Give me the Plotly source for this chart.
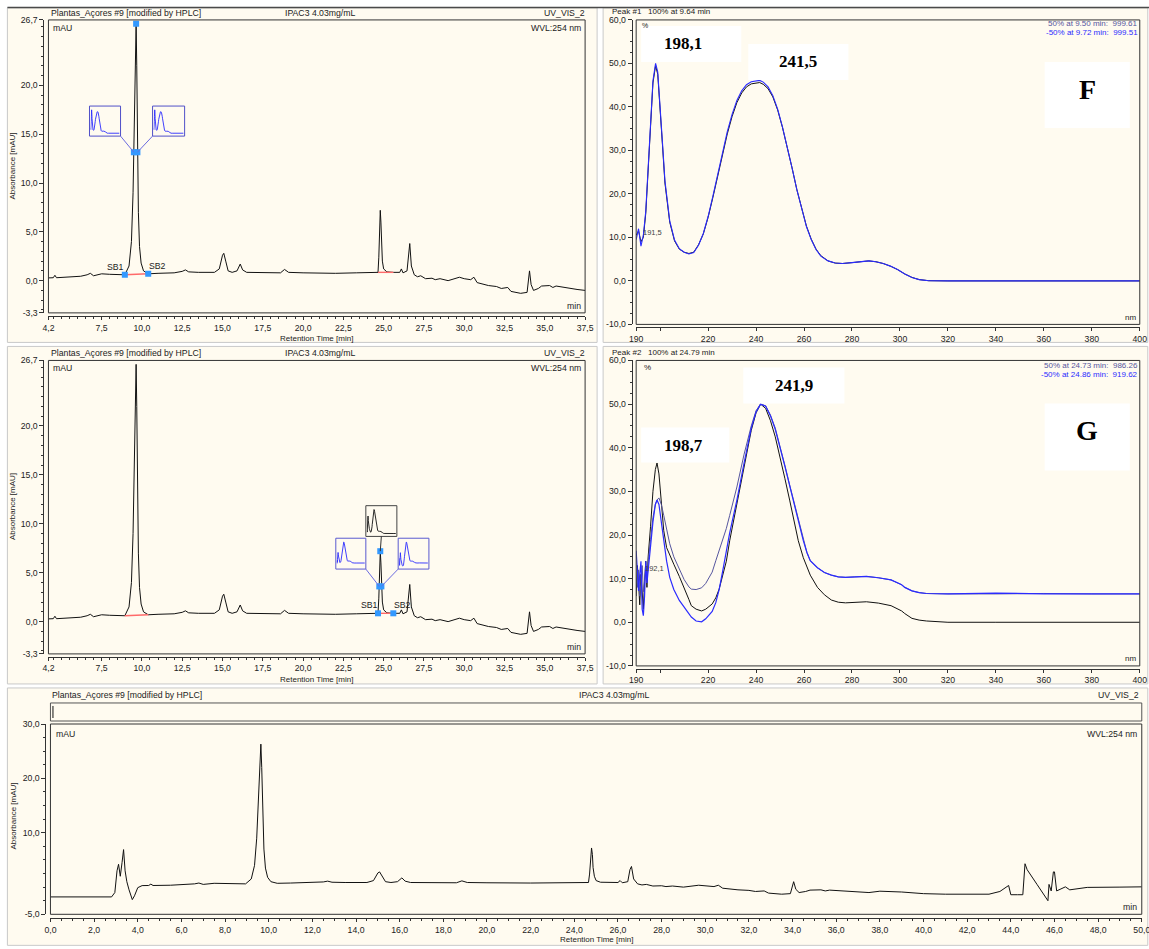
import plotly.graph_objects as go

W, H = 1149, 949
# the page is shown slightly reduced and shifted (body margin); place the
# drawing in page pixels and convert with this fitted transform
KX, BX = 0.985, 7.6
KY, BY = 0.988, 5.1
FW, FH = round((W - BX) / KX), round((H - BY) / KY)
FONT = "Liberation Sans, Arial, sans-serif"
SERIF = "Liberation Serif, Times New Roman, serif"
INK = "#222222"
CREAM = "#FFFBF0"
MARK = "#3399FF"
SLATE = "#55559E"
BLUE = "#2B2BFF"
REDLINE = "#FF6A6A"
LINK = "#6B6BE0"

# ---------------------------------------------------------------------------
# Chromatogram, UV_VIS_2 (254 nm): retention time [min] / absorbance [mAU]
# ---------------------------------------------------------------------------
rt_min = [0.0, 1.0, 2.0, 2.8, 2.95, 3.05, 3.12, 3.2, 3.28, 3.35, 3.42, 3.5, 3.6, 3.75, 3.85, 4.0,
          4.2, 4.5, 4.6, 4.7, 5.5, 6.2, 6.6, 6.8, 7.0, 7.5, 8.0, 8.5, 8.94, 9.2, 9.35, 9.45,
          9.50, 9.57, 9.64, 9.68, 9.72, 9.78, 9.85, 9.95, 10.1, 10.39, 11.0, 12.0, 12.5, 12.7,
          12.9, 13.5, 14.5, 14.8, 15.0, 15.08, 15.2, 15.35, 15.6, 15.9, 16.1, 16.25, 16.5, 17.5,
          18.6, 18.85, 19.1, 20.0, 21.0, 22.0, 23.3, 24.0, 24.5, 24.65, 24.70, 24.73, 24.79,
          24.83, 24.86, 24.92, 25.0, 25.2, 25.6, 26.0, 26.1, 26.2, 26.45, 26.55, 26.62, 26.72,
          26.9, 27.1, 27.3, 27.6, 28.0, 28.2, 28.5, 29.0, 29.7, 30.0, 30.4, 30.6, 30.8, 31.5,
          32.0, 32.3, 32.7, 32.9, 33.5, 33.9, 34.0, 34.05, 34.15, 34.3, 34.6, 34.8, 35.3, 35.5,
          35.7, 36.5, 37.0, 37.5, 38.0, 39.0, 40.0, 41.0, 43.0, 43.5, 43.9, 44.0, 44.3, 44.55,
          44.65, 44.75, 45.2, 45.6, 45.7, 45.75, 45.85, 45.95, 46.0, 46.1, 46.3, 46.5, 46.7,
          47.0, 47.5, 49.0, 50.0]
abs_mau = [-1.8, -1.8, -1.8, -1.8, -1.0, 3.0, 4.2, 2.0, 4.5, 6.9, 3.0, 1.0, -0.5, -2.3, -1.6, -0.1,
           0.28, 0.3, 0.55, 0.3, 0.35, 0.45, 0.6, 0.75, 0.5, 0.7, 0.65, 0.6, 0.6, 1.5, 4.0, 9.0,
           13.15, 21.0, 26.3, 22.0, 13.15, 7.0, 3.5, 1.8, 1.0, 0.7, 0.75, 0.8, 0.95, 1.1,
           0.9, 0.85, 0.85, 1.2, 2.6, 2.8, 2.0, 1.0, 0.85, 1.0, 1.7, 1.1, 0.85, 0.8,
           0.8, 1.15, 0.85, 0.8, 0.75, 0.75, 0.8, 0.8, 0.8, 0.85, 2.4, 3.6, 7.2,
           6.0, 3.6, 2.0, 1.2, 0.9, 0.85, 0.85, 1.2, 0.8, 1.0, 3.2, 3.8, 1.5,
           0.6, 0.4, 0.5, 0.2, 0.25, 0.1, 0.2, 0.0, 0.35, 0.2, 0.1, 0.35, -0.2, -0.5,
           -0.6, -0.8, -0.7, -1.1, -1.3, -1.2, 0.2, 1.0, -0.4, -1.0, -0.8, -0.55, -0.5, -0.7,
           -0.55, -0.8, -0.9, -1.0, -0.75, -0.9, -1.2, -1.3, -1.3, -0.8, 0.3, -1.4, -1.4, -1.4,
           4.3, 3.2, 0.5, -2.0, -2.5, 0.5, -0.7, 2.8, 2.8, -0.7, -0.4, 0.05, -0.5,
           -0.3, -0.05, 0.0, 0.05]

# Peak #1 and Peak #2: 50 % / apex / -50 % points and integration limits (SB1, SB2)
peak1_rt = [9.50, 9.64, 9.72]
peak1_mau = [13.15, 26.3, 13.15]
peak1_sb_rt = [8.94, 10.39]
peak1_sb_mau = [0.6, 0.7]
peak2_rt = [24.73, 24.79, 24.86]
peak2_mau = [3.6, 7.2, 3.6]
peak2_sb_rt = [24.65, 25.6]
peak2_sb_mau = [0.85, 0.85]

# ---------------------------------------------------------------------------
# UV spectra (%), Peak #1 (F) and Peak #2 (G)
# ---------------------------------------------------------------------------
nm_f = [190, 191, 192, 193, 194, 195, 196, 197, 198.1, 199, 200, 201, 202, 204, 206, 208, 210,
        212, 214, 216, 218, 220, 222, 224, 226, 228, 230, 232, 234, 236, 238, 240, 241.5, 243,
        245, 247, 249, 251, 253, 255, 257, 259, 261, 263, 265, 267, 270, 273, 276, 280, 284,
        287, 290, 293, 296, 299, 302, 305, 308, 312, 320, 340, 360, 380, 400]
spec_f_apex = [10.5, 11.5, 9.0, 10.0, 15.5, 24.5, 35.5, 45.5, 49.5, 47.5, 40.0, 31.0, 22.5, 13.5,
               9.2, 7.3, 6.6, 6.3, 6.6, 8.3, 10.8, 14.6, 19.2, 24.2, 29.2, 33.8, 37.8, 41.0, 43.2,
               44.6, 45.3, 45.5, 45.6, 45.2, 44.2, 42.3, 39.3, 35.3, 30.8, 26.0, 21.0, 16.6, 12.6,
               9.6, 7.3, 5.8, 4.6, 4.1, 4.0, 4.2, 4.5, 4.6, 4.4, 4.0, 3.4, 2.6, 1.6, 0.8, 0.3,
               0.05, 0.0, 0.0, 0.0, 0.0, 0.0]
spec_f_half = [9.5, 12.0, 8.0, 10.5, 16.0, 25.0, 36.0, 46.0, 50.0, 48.0, 40.5, 31.5, 23.0, 13.8,
               9.4, 7.4, 6.6, 6.2, 6.5, 8.2, 10.9, 14.8, 19.5, 24.6, 29.7, 34.3, 38.3, 41.5, 43.7,
               45.1, 45.8, 46.0, 46.1, 45.7, 44.6, 42.6, 39.5, 35.4, 30.9, 26.0, 21.0, 16.5, 12.5,
               9.5, 7.2, 5.7, 4.6, 4.1, 4.0, 4.2, 4.5, 4.6, 4.4, 4.0, 3.4, 2.6, 1.6, 0.8, 0.3,
               0.05, 0.0, 0.0, 0.0, 0.0, 0.0]

nm_g = [190, 190.5, 191, 191.5, 192, 192.5, 193, 193.5, 194, 194.5, 195, 196, 197, 198, 198.7,
        199.5, 200.5, 201.5, 202.7, 204, 205.7, 208, 210, 212, 213, 215, 217.3, 219, 221.7,
        223.2, 224.6, 226.1, 227.6, 229, 230, 232, 235, 238, 240, 241.9, 244, 246, 248, 250,
        252, 254, 256, 257.6, 259.7, 261.2, 262.6, 265.6, 268.5, 271.4, 274.3, 277.3, 281, 286,
        291, 296.3, 300.7, 302, 305, 308, 311, 315, 320, 340, 360, 380, 400]
spec_g_apex = [6, 13, 9, 4, 11, 7, 3, 9, 14, 8, 15, 22, 30, 35, 36.5, 34, 27, 21, 17.1, 15.3,
               13.3, 10.5, 8.0, 5.2, 3.8, 3.0, 2.6, 3.0, 4.2, 5.6, 7.6, 10.5, 14.0, 18.7, 21.5,
               27.5, 36.0, 44.0, 48.0, 50.0, 49.0, 46.2, 42.5, 38.0, 33.0, 28.0, 23.0, 18.7, 14.8,
               12.6, 10.8, 8.0, 6.3, 5.1, 4.6, 4.45, 4.5, 4.7, 4.4, 3.8, 2.6, 2.0, 0.9, 0.5, 0.3,
               0.1, 0.0, 0.0, 0.0, 0.0, 0.0]
spec_g_up = [10, 8, 12, 6, 9, 13, 7, 10, 12, 9, 14, 19, 24, 27, 28, 28.5, 27, 24.5, 21, 18,
             15, 12, 9.8, 8.1, 7.6, 7.5, 7.9, 8.9, 11.5, 14.1, 16.3, 18.7, 21.5, 24.5, 26.5,
             31.0, 38.5, 45.0, 48.5, 50.0, 49.6, 47.5, 44.5, 40.5, 36.0, 31.5, 27.0, 23.5, 18.7,
             16.0, 14.1, 12.5, 11.4, 10.8, 10.4, 10.3, 10.4, 10.5, 10.2, 9.7, 8.6, 8.0, 7.2, 6.8,
             6.6, 6.5, 6.5, 6.5, 6.6, 6.5, 6.5]
spec_g_down = [16.4, 12, 7.2, 11, 14, 3, 1.5, 6, 14, 9, 12, 17, 23, 27, 28, 27, 23, 18, 14, 10.3,
               7.5, 5.0, 3.4, 1.8, 1.2, 0.3, 0.1, 0.8, 2.5, 4.5, 7.5, 11.8, 16.5, 20.5, 23.0,
               28.0, 36.5, 44.5, 48.2, 50.0, 49.5, 47.3, 44.2, 40.3, 35.8, 31.3, 26.8, 23.3, 18.7,
               16.0, 14.1, 12.5, 11.4, 10.8, 10.4, 10.3, 10.4, 10.5, 10.2, 9.7, 8.6, 8.0, 7.2, 6.8,
               6.6, 6.5, 6.5, 6.7, 6.5, 6.5, 6.5]

# ---------------------------------------------------------------------------
# Page geometry (page pixels) for the five panels
# ---------------------------------------------------------------------------
GEOM = {
    "A": dict(x0=49, x1=585, y0=20, y1=312.5, xr=[4.2, 37.5], yr=[-3.3, 26.7], ax=44, ay=316),
    "B": dict(x0=636, x1=1139, y0=20, y1=324, xr=[190, 400], yr=[-10, 60], ax=631.5, ay=327),
    "C": dict(x0=49, x1=585, y0=360, y1=653, xr=[4.2, 37.5], yr=[-3.3, 26.7], ax=44, ay=656),
    "D": dict(x0=636, x1=1139, y0=360, y1=665, xr=[190, 400], yr=[-10, 60], ax=631.5, ay=668),
    "E": dict(x0=51, x1=1141, y0=723, y1=913, xr=[0, 50], yr=[-5, 30], ax=46, ay=917),
}


def xp(px):
    return ((px - BX) / KX) / FW


def yp(py):
    return 1 - ((py - BY) / KY) / FH


def to_px(panel, t, v):
    g = GEOM[panel]
    x = g["x0"] + (t - g["xr"][0]) / (g["xr"][1] - g["xr"][0]) * (g["x1"] - g["x0"])
    y = g["y1"] - (v - g["yr"][0]) / (g["yr"][1] - g["yr"][0]) * (g["y1"] - g["y0"])
    return x, y


def fmt1(v):
    return f"{v:.1f}".replace(".", ",")


tick_font = dict(family=FONT, size=8.7, color=INK)


def axis_pair(panel, xticks, xlabels, yticks, xminor, yminor):
    g = GEOM[panel]
    xa = dict(domain=[xp(g["x0"]), xp(g["x1"])], range=g["xr"], anchor="free",
              position=yp(g["ay"]), showline=True, linecolor="#333", linewidth=1,
              ticks="outside", ticklen=3, tickcolor="#333", tickmode="array",
              tickvals=xticks, ticktext=xlabels, tickfont=tick_font, showgrid=False,
              zeroline=False, minor=dict(ticks="outside", ticklen=2, tickcolor="#333", **xminor))
    ya = dict(domain=[yp(g["y1"]), yp(g["y0"])], range=g["yr"], anchor="free",
              position=xp(g["ax"]), side="left", showline=True, linecolor="#333", linewidth=1,
              ticks="outside", ticklen=4, tickcolor="#333", tickmode="array",
              tickvals=yticks, ticktext=[fmt1(v) for v in yticks], tickfont=tick_font,
              showgrid=False, zeroline=False,
              minor=dict(ticks="outside", ticklen=2, tickcolor="#333", **yminor))
    return xa, ya


layout = dict(width=FW, height=FH, margin=dict(l=0, r=0, t=0, b=0), autosize=False,
              paper_bgcolor="#FFFFFF", plot_bgcolor="rgba(0,0,0,0)", showlegend=False,
              font=dict(family=FONT, size=9, color=INK), hovermode=False)

rt_ticks_short = [4.2, 7.5, 10, 12.5, 15, 17.5, 20, 22.5, 25, 27.5, 30, 32.5, 35, 37.5]
mau_ticks_short = [-3.3, 0, 5, 10, 15, 20, 26.7]
nm_ticks = [190, 220, 240, 260, 280, 300, 320, 340, 360, 380, 400]
pct_ticks = [-10, 0, 10, 20, 30, 40, 50, 60]
rt_ticks_full = list(range(0, 51, 2))
mau_ticks_full = [-5, 10, 20, 30]

axis_names = {"A": ("xaxis", "yaxis"), "B": ("xaxis2", "yaxis2"), "C": ("xaxis3", "yaxis3"),
              "D": ("xaxis4", "yaxis4"), "E": ("xaxis5", "yaxis5")}
trace_refs = {"A": ("x", "y"), "B": ("x2", "y2"), "C": ("x3", "y3"),
              "D": ("x4", "y4"), "E": ("x5", "y5")}

for p in ("A", "C"):
    xa, ya = axis_pair(p, rt_ticks_short, [fmt1(v) for v in rt_ticks_short], mau_ticks_short,
                       dict(dtick=0.5, tick0=0), dict(dtick=1, tick0=0))
    layout[axis_names[p][0]], layout[axis_names[p][1]] = xa, ya
for p in ("B", "D"):
    xa, ya = axis_pair(p, nm_ticks, [str(v) for v in nm_ticks], pct_ticks,
                       dict(tickmode="array", tickvals=[200]), dict(dtick=2.5, tick0=0))
    xa["minor"]["ticklen"] = 3
    layout[axis_names[p][0]], layout[axis_names[p][1]] = xa, ya
xa, ya = axis_pair("E", rt_ticks_full, [fmt1(v) for v in rt_ticks_full], mau_ticks_full,
                   dict(dtick=0.5, tick0=0), dict(dtick=2.5, tick0=0))
layout["xaxis5"], layout["yaxis5"] = xa, ya

# small spectrum insets next to the highlighted peaks
INSETS = {
    6: dict(box=(90, 106, 121, 136), panel="A", color="#5050C8"),
    7: dict(box=(153, 106, 185, 136), panel="A", color="#5050C8"),
    8: dict(box=(366, 505, 397, 535.7), panel="C", color="#444444"),
    9: dict(box=(336, 537.5, 366, 568.3), panel="C", color="#5A5AD0"),
    10: dict(box=(398.3, 537.5, 429, 568.3), panel="C", color="#5A5AD0"),
}
for k, ins in INSETS.items():
    bx0, by0, bx1, by1 = ins["box"]
    layout[f"xaxis{k}"] = dict(domain=[xp(bx0 + 1), xp(bx1 - 1)], range=[190, 400],
                               anchor=f"y{k}", visible=False, fixedrange=True)
    layout[f"yaxis{k}"] = dict(domain=[yp(by1 - 1), yp(by0 + 1)], range=[-4, 56],
                               anchor=f"x{k}", visible=False, fixedrange=True)

traces = []


def line(panel, x, y, color, width=1.0):
    xr, yr = trace_refs[panel]
    traces.append(go.Scatter(x=x, y=y, mode="lines", xaxis=xr, yaxis=yr,
                             line=dict(color=color, width=width), hoverinfo="skip"))


# chromatograms
for p in ("A", "C", "E"):
    line(p, rt_min, abs_mau, "#111111", 1.0)

# integration baselines
for p in ("A", "C"):
    line(p, peak1_sb_rt, peak1_sb_mau, REDLINE, 1.4)
    line(p, peak2_sb_rt, peak2_sb_mau, REDLINE, 1.4)

# spectra
line("B", nm_f, spec_f_apex, "#111111", 1.0)
line("B", nm_f, spec_f_half, BLUE, 1.1)
line("D", nm_g, spec_g_apex, "#111111", 1.0)
line("D", nm_g, spec_g_up, SLATE, 1.0)
line("D", nm_g, spec_g_down, BLUE, 1.2)

# inset spectra
inset_data = {6: (nm_f, spec_f_half, BLUE), 7: (nm_f, spec_f_half, BLUE),
              8: (nm_g, spec_g_apex, "#111111"), 9: (nm_g, spec_g_up, BLUE),
              10: (nm_g, spec_g_down, BLUE)}
for k, (wx, wy, col) in inset_data.items():
    traces.append(go.Scatter(x=wx, y=wy, mode="lines", xaxis=f"x{k}", yaxis=f"y{k}",
                             line=dict(color=col, width=0.9), hoverinfo="skip"))

shapes = []
annotations = []


def rect(x0, y0, x1, y1, line_color=None, fill=None, width=1, layer="above"):
    shapes.append(dict(type="rect", xref="paper", yref="paper", x0=xp(x0), x1=xp(x1),
                       y0=yp(y1), y1=yp(y0), layer=layer,
                       line=dict(color=line_color or "rgba(0,0,0,0)", width=width if line_color else 0),
                       fillcolor=fill or "rgba(0,0,0,0)"))


def seg(x0, y0, x1, y1, color, width=1):
    shapes.append(dict(type="line", xref="paper", yref="paper", x0=xp(x0), x1=xp(x1),
                       y0=yp(y0), y1=yp(y1), line=dict(color=color, width=width), layer="above"))


def txt(x, y, s, anchor="left", size=8.7, color=INK, family=FONT, weight="normal", angle=0):
    annotations.append(dict(x=xp(x), y=yp(y), xref="paper", yref="paper", text=s,
                            showarrow=False, xanchor=anchor, yanchor="middle", textangle=angle,
                            font=dict(family=family, size=size, color=color, weight=weight)))


# panel backgrounds and separators
for (x0, y0, x1, y1) in [(8, 8, 597, 342), (603, 8, 1147, 342), (8, 346, 597, 683),
                         (603, 346, 1147, 683), (8, 687, 1147, 944)]:
    rect(x0, y0, x1, y1, line_color="#C9C9C9", fill=CREAM, layer="below")
seg(8, 7.5, 1149, 7.5, "#4A4A4A", 1.5)

# plot frames
for p, g in GEOM.items():
    rect(g["x0"], g["y0"], g["x1"], g["y1"], line_color="#333333", width=1)

# empty header strip of the full-run chromatogram
rect(51, 702, 1141, 720, line_color="#555555", width=1)
seg(53.5, 705, 53.5, 717, "#111111", 1)

# inset boxes
for k, ins in INSETS.items():
    bx0, by0, bx1, by1 = ins["box"]
    rect(bx0, by0, bx1, by1, line_color=ins["color"], width=1)

# connectors from insets to the peak markers
lx, ly = to_px("A", peak1_rt[0], peak1_mau[0])
rx, ry = to_px("A", peak1_rt[2], peak1_mau[2])
seg(121, 136, lx, ly, LINK)
seg(153, 136, rx, ry, LINK)
lx, ly = to_px("C", peak2_rt[0], peak2_mau[0])
rx, ry = to_px("C", peak2_rt[2], peak2_mau[2])
tx, ty = to_px("C", peak2_rt[1], peak2_mau[1])
seg(366, 568.3, lx, ly, LINK)
seg(398.3, 568.3, rx, ry, LINK)
seg(381.5, 535.7, tx, ty, "#333333")

# peak markers
for p, prt, pm, sbr, sbm in (("A", peak1_rt, peak1_mau, peak1_sb_rt, peak1_sb_mau),
                             ("C", peak2_rt, peak2_mau, peak2_sb_rt, peak2_sb_mau)):
    xr, yr = trace_refs[p]
    traces.append(go.Scatter(x=prt + sbr, y=pm + sbm, mode="markers", xaxis=xr, yaxis=yr,
                             marker=dict(symbol="square", size=6, color=MARK,
                                         line=dict(width=0)), hoverinfo="skip"))
    for name, t, v, dx in (("SB1", sbr[0], sbm[0], -9), ("SB2", sbr[1], sbm[1], 9)):
        px_, py_ = to_px(p, t, v)
        txt(px_ + dx, py_ - 8, name, anchor="center")

# header / axis texts of the chromatogram panels
for dy in (0, 340):
    txt(50, 13 + dy, "Plantas_Açores #9 [modified by HPLC]")
    txt(283, 13 + dy, "IPAC3 4.03mg/mL")
    txt(587, 13 + dy, "UV_VIS_2", anchor="right")
    txt(52, 28 + dy, "mAU")
    txt(583, 28 + dy, "WVL:254 nm", anchor="right")
    txt(583, 306 + dy, "min", anchor="right")
    txt(317, 338.5 + dy, "Retention Time [min]", anchor="center", size=8)
    txt(13, 166 + dy, "Absorbance [mAU]", anchor="center", size=8, angle=-90)

txt(51, 694, "Plantas_Açores #9 [modified by HPLC]")
txt(577, 694, "IPAC3 4.03mg/mL")
txt(1140, 694, "UV_VIS_2", anchor="right")
txt(55, 733, "mAU")
txt(1138, 733, "WVL:254 nm", anchor="right")
txt(1138, 906, "min", anchor="right")
txt(596, 938.5, "Retention Time [min]", anchor="center", size=8)
txt(14, 815, "Absorbance [mAU]", anchor="center", size=8, angle=-90)

# spectrum panel texts
txt(610, 12, "Peak #1   100% at 9.64 min", size=8)
txt(1139, 24, "50% at 9.50 min:  999.61", anchor="right", color=SLATE, size=8)
txt(1139, 33, "-50% at 9.72 min:  999.51", anchor="right", color=BLUE, size=8)
txt(640, 26, "%", size=7)
txt(1137, 317, "nm", anchor="right", size=8)
txt(652, 232, "191,5", anchor="center", size=7.5, color="#444")

txt(610, 352, "Peak #2   100% at 24.79 min", size=8)
txt(1139, 365, "50% at 24.73 min:  986.26", anchor="right", color=SLATE, size=8)
txt(1139, 374, "-50% at 24.86 min:  919.62", anchor="right", color=BLUE, size=8)
txt(642, 367, "%", size=8)
txt(1137, 658, "nm", anchor="right", size=8)
txt(654, 568, "192,1", anchor="center", size=7.5, color="#444")

# white label boxes with the absorption maxima
for (x0, y0, x1, y1, s, size) in [(641, 26, 741, 62, "198,1", 17), (748, 44, 848, 80, "241,5", 17),
                                  (1044, 62, 1129, 128, "F", 28),
                                  (743, 367, 844, 403, "241,9", 17), (641, 427, 729, 462, "198,7", 17),
                                  (1044, 403, 1129, 470, "G", 28)]:
    rect(x0, y0, x1, y1, fill="#FFFFFF")
    cx = (x0 + x1) / 2
    cy = (y0 + y1) / 2 if s not in ("F", "G") else y0 + 27
    if s in ("198,1", "198,7"):
        cx = x0 + 42
    txt(cx, cy, s, anchor="center", size=size, color="#000", family=SERIF, weight="bold")

layout["shapes"] = shapes
layout["annotations"] = annotations
layout["separators"] = ", "

fig = go.Figure(data=traces, layout=layout)
fig.write_html("out.html")
